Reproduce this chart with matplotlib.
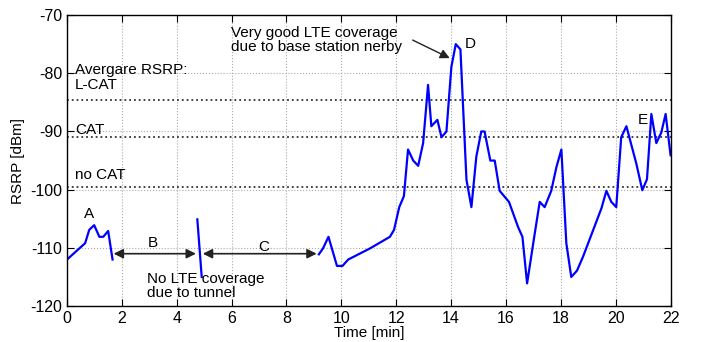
import numpy as np
import matplotlib.pyplot as plt

plt.rcParams['font.family'] = ['Liberation Sans', 'DejaVu Sans']
plt.rcParams['axes.unicode_minus'] = False

# segment A (before tunnel)
t_a = [0.0, 0.66, 0.81, 0.99, 1.18, 1.32, 1.50, 1.66]
r_a = [-112.0, -109.2, -106.9, -106.1, -108.1, -108.1, -107.1, -112.0]

# short blip in tunnel
t_b = [4.75, 4.91]
r_b = [-105.1, -115.0]

# after tunnel
t_c = [9.18, 9.33, 9.53, 9.84, 10.04, 10.25, 11.04, 11.77, 11.92, 12.11, 12.28,
       12.43, 12.62, 12.80, 12.98, 13.16, 13.28, 13.50, 13.65, 13.83, 14.01,
       14.17, 14.34, 14.56, 14.74, 14.92, 15.10, 15.22, 15.43, 15.59, 15.77,
       16.11, 16.44, 16.60, 16.77, 17.05, 17.23, 17.41, 17.65, 17.84, 18.02,
       18.20, 18.38, 18.59, 18.81, 19.48, 19.66, 19.84, 20.02, 20.20, 20.39,
       20.75, 20.97, 21.14, 21.30, 21.48, 21.66, 21.82, 22.0]
r_c = [-111.1, -110.1, -108.1, -113.1, -113.1, -112.0, -110.1, -108.1, -106.9,
       -103.0, -101.1, -93.1, -95.0, -95.9, -92.0, -82.0, -89.1, -88.0, -91.0,
       -90.0, -78.9, -75.0, -75.9, -98.3, -103.0, -94.3, -90.0, -90.0, -95.0,
       -95.0, -100.2, -102.1, -106.4, -108.1, -116.1, -107.5, -102.1, -103.0,
       -100.2, -96.1, -93.1, -109.2, -115.0, -113.9, -111.5, -103.2, -100.2,
       -102.1, -103.0, -91.0, -89.1, -95.5, -100.1, -98.2, -87.0, -92.0, -90.2,
       -87.0, -94.1]

avg_labels = ['L-CAT', 'CAT', 'no CAT']
avg_rsrp = [-84.6, -91.0, -99.5]

fig = plt.figure(figsize=(7.01, 3.42), dpi=100)
ax = fig.add_axes([0.0956, 0.105, 0.861, 0.851])

ax.grid(True, linestyle=':', color='#aaaaaa', linewidth=0.8)
ax.set_axisbelow(True)

for v in avg_rsrp:
    ax.axhline(v, color='#333333', linestyle=':', linewidth=1.3)

lw = 1.6
ax.plot(t_a, r_a, color='#0000ff', linewidth=lw)
ax.plot(t_b, r_b, color='#0000ff', linewidth=lw)
ax.plot(t_c, r_c, color='#0000ff', linewidth=lw)

ax.set_xlim(0, 22)
ax.set_ylim(-120, -70)
ax.set_xticks(np.arange(0, 23, 2))
ax.set_yticks(np.arange(-120, -69, 10))
ax.tick_params(direction='in', top=True, right=True, labelsize=11.5, length=5)
ax.set_xlabel('Time [min]', fontsize=11, labelpad=0)
ax.set_ylabel('RSRP [dBm]', fontsize=11)
for s in ax.spines.values():
    s.set_linewidth(1.0)

fs = 11
ax.text(0.29, -78.3, 'Avergare RSRP:\nL-CAT', fontsize=fs, va='top', linespacing=1.1)
ax.text(0.29, -89.8, 'CAT', fontsize=fs, va='center')
ax.text(0.29, -97.5, 'no CAT', fontsize=fs, va='center')

ax.text(0.81, -104.2, 'A', fontsize=fs, ha='center', va='center')
ax.text(3.14, -109.2, 'B', fontsize=fs, ha='center', va='center')
ax.text(7.18, -109.8, 'C', fontsize=fs, ha='center', va='center')
ax.text(14.68, -74.9, 'D', fontsize=fs, ha='center', va='center')
ax.text(21.0, -88.0, 'E', fontsize=fs, ha='center', va='center')

arrow = dict(arrowstyle='<|-|>', color='#222222', linewidth=1.2, mutation_scale=14,
             shrinkA=0, shrinkB=0)
ax.annotate('', xy=(1.7, -111.0), xytext=(4.7, -111.0), arrowprops=arrow)
ax.annotate('', xy=(4.95, -111.0), xytext=(9.1, -111.0), arrowprops=arrow)

ax.text(2.93, -114.1, 'No LTE coverage\ndue to tunnel', fontsize=fs, va='top', linespacing=1.0)
ax.text(5.96, -71.8, 'Very good LTE coverage\ndue to base station nerby', fontsize=fs,
        va='top', linespacing=1.0)
ax.annotate('', xy=(13.95, -77.4), xytext=(12.6, -74.3),
            arrowprops=dict(arrowstyle='-|>', color='#222222', linewidth=1.0,
                            mutation_scale=14, shrinkA=0, shrinkB=0))

fig.savefig('out.png', dpi=100)
